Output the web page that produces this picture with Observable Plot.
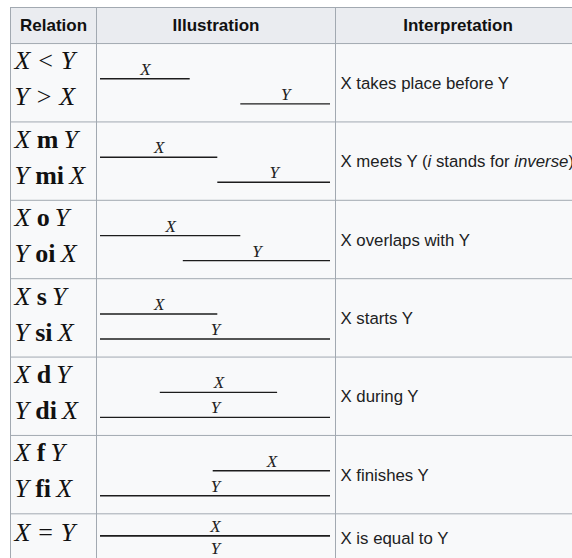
<!DOCTYPE html>
<html>
<head>
<meta charset="utf-8">
<script src="https://cdn.jsdelivr.net/npm/d3@7"></script>
<script src="https://cdn.jsdelivr.net/npm/@observablehq/plot@0.6"></script>
<style>
  html, body { margin: 0; padding: 0; background: #ffffff; }
  #chart { width: 572px; height: 558px; overflow: hidden; }
</style>
</head>
<body>
<div id="chart"></div>
<script>
// ---- data ----
const headers = ["Relation", "Illustration", "Interpretation"];
const relations = ["X < Y", "X m Y", "X o Y", "X s Y", "X d Y", "X f Y", "X = Y"];
const inverses  = ["Y > X", "Y mi X", "Y oi X", "Y si X", "Y di X", "Y fi X", ""];
const interpretations = [
  "X takes place before Y",
  "X meets Y (*i* stands for *inverse*)",
  "X overlaps with Y",
  "X starts Y",
  "X during Y",
  "X finishes Y",
  "X is equal to Y"
];
// interval end points on a 0..100 time axis
const xStart = [0, 0, 0, 0, 26, 49, 0];
const xEnd   = [39, 51, 61, 51, 77, 100, 100];
const yStart = [61, 51, 36, 0, 0, 0, 0];
const yEnd   = [100, 100, 100, 100, 100, 100, 100];

// ---- layout helpers ----
const ux = p => (p - 100) / 2.3;           // pixel -> time units (x scale inverse)
const HEADER_TOP = -0.46, BOTTOM = 6.57;
const colEdges = [10, 96, 335, 580];
const textColor = "#202122";
const gridColor = "#a2a9b1";
const serif = "Liberation Serif, Times New Roman, serif";
const sans = "Liberation Sans, Arial, sans-serif";

const segs = relations.flatMap((r, i) => {
  const equal = xStart[i] === yStart[i] && xEnd[i] === yEnd[i];
  return [
    {row: i, who: "X", s: xStart[i], e: xEnd[i], lane: equal ? 0.28 : 0.45, below: false},
    {row: i, who: "Y", s: yStart[i], e: yEnd[i], lane: equal ? 0.28 : 0.77, below: equal}
  ];
});
const rows = d3.range(relations.length);

const chart = Plot.plot({
  width: 572,
  height: 558,
  margin: 0,
  style: {background: "#ffffff", overflow: "hidden"},
  x: {domain: [0, 100], range: [100, 330], axis: null},
  y: {domain: [HEADER_TOP, BOTTOM], range: [7, 558], axis: null},
  marks: [
    // body + header backgrounds
    Plot.rect([0], {x1: () => ux(colEdges[0]), x2: () => ux(colEdges[3]), y1: () => 0, y2: () => BOTTOM, fill: "#f8f9fa"}),
    Plot.rect([0], {x1: () => ux(colEdges[0]), x2: () => ux(colEdges[3]), y1: () => HEADER_TOP, y2: () => 0, fill: "#eaecf0"}),
    // grid
    Plot.ruleY([HEADER_TOP, ...rows], {y: d => d, x1: () => ux(colEdges[0]), x2: () => ux(colEdges[3]), stroke: gridColor, strokeWidth: 1}),
    Plot.ruleX(colEdges.slice(0, 3), {x: d => ux(d), y1: () => HEADER_TOP, y2: () => BOTTOM, stroke: gridColor, strokeWidth: 1}),
    // [text 0] headers
    Plot.text(headers, {
      x: (d, i) => ux((colEdges[i] + colEdges[i + 1]) / 2),
      y: () => HEADER_TOP / 2,
      text: d => d, textAnchor: "middle", lineAnchor: "middle",
      fontFamily: sans, fontWeight: "bold", fontSize: 17, fill: "#111"
    }),
    // [text 1] relation formulas
    Plot.text(relations, {
      x: () => ux(14), y: (d, i) => i + (inverses[i] ? 0.33 : 0.35),
      text: d => d, textAnchor: "start", lineAnchor: "bottom",
      fontFamily: serif, fontSize: 26, fill: "#111"
    }),
    // [text 2] inverse formulas
    Plot.text(inverses, {
      x: () => ux(14), y: (d, i) => i + 0.79,
      text: d => d, textAnchor: "start", lineAnchor: "bottom",
      fontFamily: serif, fontSize: 26, fill: "#111"
    }),
    // illustration intervals
    Plot.ruleY(segs, {y: d => d.row + d.lane, x1: "s", x2: "e", stroke: "#1c1c1c", strokeWidth: 1.4}),
    // [text 3] labels above
    Plot.text(segs.filter(d => !d.below), {
      x: d => (d.s + d.e) / 2, y: d => d.row + d.lane, text: "who", dy: -4,
      lineAnchor: "bottom", textAnchor: "middle",
      fontFamily: serif, fontStyle: "italic", fontSize: 17, fill: "#222"
    }),
    // [text 4] labels below
    Plot.text(segs.filter(d => d.below), {
      x: d => (d.s + d.e) / 2, y: d => d.row + d.lane, text: "who", dy: 6,
      lineAnchor: "top", textAnchor: "middle",
      fontFamily: serif, fontStyle: "italic", fontSize: 17, fill: "#222"
    }),
    // [text 5] interpretations
    Plot.text(interpretations, {
      x: () => ux(340), y: (d, i) => i + (inverses[i] ? 0.51 : 0.31),
      text: d => d, textAnchor: "start", lineAnchor: "middle",
      fontFamily: sans, fontSize: 16.8, fill: textColor
    })
  ]
});

document.getElementById("chart").appendChild(chart);

const textGroups = d3.select(chart).selectAll('g[aria-label="text"]').nodes();

function styleRelation() {
  const t = d3.select(this);
  const str = t.text();
  if (!str) return;
  const [a, op, b] = str.split(" ");
  t.text(null);
  t.append("tspan").attr("font-style", "italic").text(a);
  const word = /^[a-z]+$/.test(op);
  t.append("tspan").attr("dx", word ? "0.24em" : "0.3em")
    .attr("font-weight", word ? "bold" : "normal").attr("font-style", "normal").text(op);
  t.append("tspan").attr("dx", word ? "0.2em" : "0.3em").attr("font-style", "italic").text(b);
}
d3.select(textGroups[1]).selectAll("text").each(styleRelation);
d3.select(textGroups[2]).selectAll("text").each(styleRelation);

d3.select(textGroups[5]).selectAll("text").each(function () {
  const t = d3.select(this);
  const str = t.text();
  if (!str.includes("*")) return;
  t.text(null);
  str.split("*").forEach((part, k) => {
    t.append("tspan").attr("font-style", k % 2 ? "italic" : "normal").text(part);
  });
});
</script>
</body>
</html>
